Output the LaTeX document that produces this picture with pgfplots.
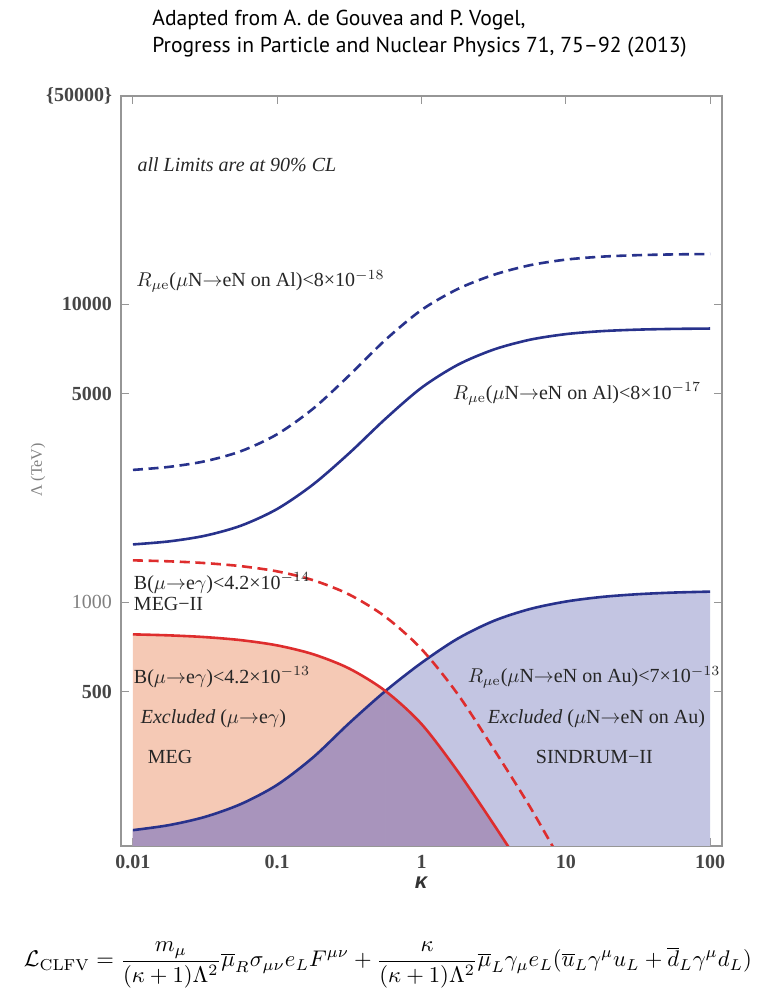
\documentclass[border=0pt]{standalone}
\usepackage[no-math]{fontspec}
\setmainfont{Liberation Serif}
\newfontfamily\titlefont{PT Sans}
\newfontfamily\labelsans{Liberation Sans}
\usepackage{graphicx}
\usepackage{pgfplots}
\pgfplotsset{compat=1.18}
\definecolor{lineblue}{RGB}{40,50,140}
\definecolor{linered}{RGB}{222,45,45}
\definecolor{fillorange}{RGB}{245,201,181}
\definecolor{fillblue}{RGB}{195,197,226}
\definecolor{fillpurple}{RGB}{168,148,188}
\definecolor{framegray}{RGB}{150,150,150}
\definecolor{ticktext}{RGB}{70,70,70}
\begin{document}
\begin{tikzpicture}
\path[use as bounding box] (-60.5pt,-76pt) rectangle (319pt,423pt);
\begin{axis}[
  at={(0pt,0pt)}, anchor=south west,
  scale only axis, width=300.5pt, height=375pt,
  xmode=log, ymode=log,
  xmin=0.00826, xmax=121, ymin=152, ymax=50000,
  axis line style={framegray, line width=0.6pt},
  tick style={framegray, line width=0.5pt},
  major tick length=4pt,
  xminorticks=false, yminorticks=false,
  xtick={0.01,0.1,1,10,100},
  xticklabels={0.01,0.1,1,10,100},
  ytick={500,1000,5000,10000,50000},
  yticklabels={500,{\mdseries\color{gray}1000},5000,10000,\{50000\}},
  tick label style={font=\bfseries\fontsize{10}{12}\selectfont, text=ticktext},
  xticklabel style={yshift=-1pt},
  yticklabel style={xshift=-1pt},
  clip=true,
]
% fills
\addplot[draw=none, fill=fillorange, smooth] coordinates {
 (0.01,780.0) (0.01778,774.1) (0.03162,763.7) (0.05623,745.8) (0.1,716.2) (0.1778,668.8)
 (0.3162,598.6) (0.5623,503.5) (1,390.1) (1.778,271.1) (3.162,179.8) (5.623,117.2)} \closedcycle;
\addplot[draw=none, fill=fillblue, smooth] coordinates {
 (0.01,171.8) (0.01778,178.6) (0.03162,190.4) (0.05623,210.4) (0.1,243.9) (0.1778,301.9)
 (0.3162,393.3) (0.5623,503.5) (1,625.9) (1.778,754.4) (3.162,865.3) (5.623,948.4)
 (10,1005.1) (17.78,1041.6) (31.62,1063.9) (56.23,1077.5) (100,1085.2)} \closedcycle;
\addplot[draw=fillpurple, line width=0.2pt, fill=fillpurple, smooth] coordinates {
 (0.01,171.8) (0.01778,178.6) (0.03162,190.4) (0.05623,210.4) (0.1,243.9) (0.1778,301.9)
 (0.3162,393.3) (0.5623,503.5)} \closedcycle;
\addplot[draw=fillpurple, line width=0.2pt, fill=fillpurple, smooth] coordinates {
 (0.5623,503.5) (1,390.1) (1.778,271.1) (3.162,179.8) (5.623,117.2)} \closedcycle;
% lines
\addplot[lineblue, line width=1.3pt, smooth] coordinates {
 (0.01,171.8) (0.01778,178.6) (0.03162,190.4) (0.05623,210.4) (0.1,243.9) (0.1778,301.9)
 (0.3162,393.3) (0.5623,503.5) (1,625.9) (1.778,754.4) (3.162,865.3) (5.623,948.4)
 (10,1005.1) (17.78,1041.6) (31.62,1063.9) (56.23,1077.5) (100,1085.2)};
\addplot[linered, line width=1.3pt, smooth] coordinates {
 (0.01,780.0) (0.01778,774.1) (0.03162,763.7) (0.05623,745.8) (0.1,716.2) (0.1778,668.8)
 (0.3162,598.6) (0.5623,503.5) (1,390.1) (1.778,271.1) (3.162,179.8) (5.623,117.2)};
\addplot[linered, line width=1.3pt, dash pattern=on 5pt off 2.8pt, smooth] coordinates {
 (0.01,1382) (0.01778,1371.6) (0.03162,1353) (0.05623,1321) (0.1,1269) (0.1778,1185)
 (0.3162,1060.5) (0.5623,893.3) (1,696.0) (1.778,492.2) (3.162,321.7) (5.623,206.4) (10,126.6)};
\addplot[lineblue, line width=1.3pt, smooth] coordinates {
 (0.01,1563) (0.01778,1600) (0.03162,1672) (0.05623,1808) (0.1,2056) (0.1778,2487)
 (0.3162,3167) (0.5623,4126) (1,5246) (1.778,6258) (3.162,7046) (5.623,7600)
 (10,7940) (17.78,8124) (31.62,8219) (56.23,8266) (100,8289)};
\addplot[lineblue, line width=1.3pt, dash pattern=on 5pt off 2.8pt, smooth] coordinates {
 (0.01,2780) (0.01778,2846) (0.03162,2973) (0.05623,3215) (0.1,3664) (0.1778,4467)
 (0.3162,5777) (0.5623,7595) (1,9568) (1.778,11241) (3.162,12554) (5.623,13515)
 (10,14119) (17.78,14447) (31.62,14615) (56.23,14700) (100,14743)};
% annotations
\begin{scope}[every node/.style={inner sep=0pt, anchor=west, font=\fontsize{10}{12}\selectfont, text=black!85}]
\node at (axis cs:0.0107,29400) {\textit{all Limits are at 90\% CL}};
\node at (axis cs:0.0105,11940) {$R_{\mu\mathrm{e}}$($\mu$N${\to}$eN on Al)<8×10$^{-18}$};
\node at (axis cs:1.64,5000) {$R_{\mu\mathrm{e}}$($\mu$N${\to}$eN on Al)<8×10$^{-17}$};
\node at (axis cs:0.0101,1158) {B($\mu{\to}$e$\gamma$)<4.2×10$^{-14}$};
\node at (axis cs:0.0101,990) {MEG−II};
\node at (axis cs:0.0101,561) {B($\mu{\to}$e$\gamma$)<4.2×10$^{-13}$};
\node at (axis cs:0.01127,406) {\textit{Excluded} ($\mu{\to}$e$\gamma$)};
\node at (axis cs:0.0126,303) {MEG};
\node at (axis cs:2.08,561) {$R_{\mu\mathrm{e}}$($\mu$N${\to}$eN on Au)<7×10$^{-13}$};
\node at (axis cs:2.87,406) {\textit{Excluded} ($\mu$N${\to}$eN on Au)};
\node at (axis cs:6.17,303) {SINDRUM−II};
\end{scope}
\end{axis}
% axis labels
\node[rotate=90, text=gray, font=\fontsize{8}{10}\selectfont] at (-41.5pt,188pt) {Λ (TeV)};
\node[font=\labelsans\bfseries\itshape\fontsize{11}{13}\selectfont, text=black!80] at (150pt,-18.5pt) {κ};
% title
\node[anchor=base west, inner sep=0pt, font=\titlefont\fontsize{10.8}{12}\selectfont] at (15.5pt,410pt) {Adapted from A. de Gouvea and P. Vogel,};
\node[anchor=base west, inner sep=0pt, font=\titlefont\fontsize{10.8}{12}\selectfont] at (15.5pt,396.5pt) {Progress in Particle and Nuclear Physics 71, 75–92 (2013)};
% formula
\node[inner sep=0pt] at (133.5pt,-59.5pt) {\resizebox{364pt}{!}{$\displaystyle \mathcal{L}_{\mathrm{CLFV}} = \frac{m_\mu}{(\kappa+1)\Lambda^2}\overline{\mu}_R\sigma_{\mu\nu}e_L F^{\mu\nu} + \frac{\kappa}{(\kappa+1)\Lambda^2}\overline{\mu}_L\gamma_\mu e_L(\overline{u}_L\gamma^\mu u_L+\overline{d}_L\gamma^\mu d_L)$}};
\end{tikzpicture}
\end{document}
